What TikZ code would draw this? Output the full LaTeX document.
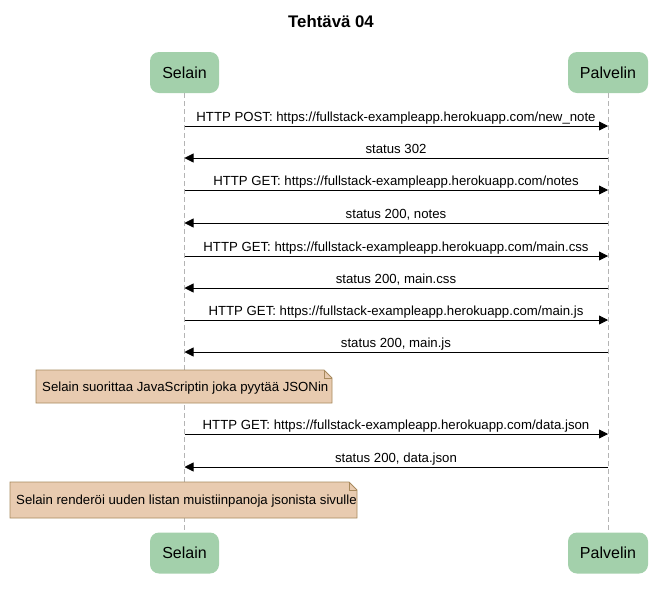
\documentclass[tikz,border=0pt]{standalone}
\usepackage{fontspec}
\setmainfont{Liberation Sans}
\usetikzlibrary{arrows.meta,shapes.misc}
\definecolor{partfill}{RGB}{163,208,171}
\definecolor{notefill}{RGB}{232,203,176}
\definecolor{notedraw}{RGB}{168,138,94}
\definecolor{lifegray}{RGB}{180,180,180}
\tikzset{
  part/.style={rounded corners=9pt, fill=partfill, minimum width=#1, minimum height=41pt, inner sep=0pt, font=\fontsize{16}{18}\selectfont},
  msg/.style={-{Triangle[length=9pt,width=9pt]}, line width=0.8pt},
  lbl/.style={font=\fontsize{13.2}{15}\selectfont, inner sep=0pt, anchor=base},
  life/.style={lifegray, dashed, dash pattern=on 5pt off 3pt, line width=0.8pt},
  notebox/.style={fill=notefill, draw=notedraw, line width=0.8pt}
}
\begin{document}
\begin{tikzpicture}[x=1pt,y=-1pt]
\useasboundingbox (0,0) rectangle (663,598);
\node[font=\bfseries\fontsize{16.8}{19}\selectfont, anchor=base] (title) at (331,27) {Tehtävä 04};
% participants
\node[part=69pt] (s1) at (184.5,72.5) {Selain};
\node[part=80pt] (p1) at (608,72.5) {Palvelin};
\node[part=69pt] (s2) at (184.5,553) {Selain};
\node[part=80pt] (p2) at (608,553) {Palvelin};
\draw[life] (s1.south) -- (s2.north);
\draw[life] (p1.south) -- (p2.north);
% messages
\foreach \y/\dir/\t in {
  126/r/{HTTP POST: https://fullstack-exampleapp.herokuapp.com/new\_note},
  158/l/{status 302},
  190/r/{HTTP GET: https://fullstack-exampleapp.herokuapp.com/notes},
  223/l/{status 200, notes},
  256/r/{HTTP GET: https://fullstack-exampleapp.herokuapp.com/main.css},
  288/l/{status 200, main.css},
  320/r/{HTTP GET: https://fullstack-exampleapp.herokuapp.com/main.js},
  352/l/{status 200, main.js},
  434/r/{HTTP GET: https://fullstack-exampleapp.herokuapp.com/data.json},
  467/l/{status 200, data.json}}{
  \coordinate (sa\y) at (s1.south |- 0,\y);
  \coordinate (pa\y) at (p1.south |- 0,\y);
  \if r\dir
    \draw[msg] (sa\y) -- (pa\y);
  \else
    \draw[msg] (pa\y) -- (sa\y);
  \fi
  \node[lbl] (m\y) at (396,{\y-5}) {\t};
}
% notes
\path[notebox] (36,370) -- (324,370) -- (332,378) -- (332,403) -- (36,403) -- cycle;
\draw[notedraw, line width=0.8pt] (324,370) -- (324,378) -- (332,378);
\node[lbl, anchor=base west] (n1) at (42,391) {Selain suorittaa JavaScriptin joka pyytää JSONin};
\path[notebox] (10,482) -- (349,482) -- (357,490) -- (357,518) -- (10,518) -- cycle;
\draw[notedraw, line width=0.8pt] (349,482) -- (349,490) -- (357,490);
\node[lbl, anchor=base west] (n2) at (16,504) {Selain renderöi uuden listan muistiinpanoja jsonista sivulle};
\end{tikzpicture}
\end{document}
